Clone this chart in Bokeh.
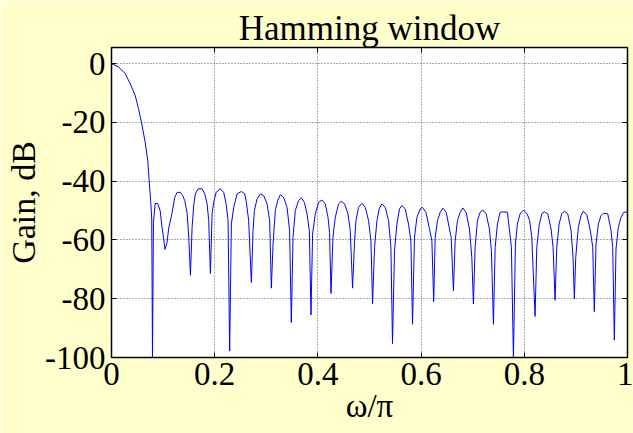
from bokeh.plotting import figure
from bokeh.embed import file_html
from bokeh.resources import INLINE
from bokeh.models import LinearAxis, FixedTicker, CustomJSTickFormatter, Range1d

# Frequency (omega/pi) and gain (dB)
freq = [
    0.000, 0.0136, 0.0265, 0.0362, 0.0459, 0.0523, 0.0587, 0.0652, 0.0703, 0.0730, 0.0761, 0.0780, 0.0794,
    0.0813, 0.0846, 0.0896, 0.0943, 0.0974, 0.1007, 0.1036, 0.1075, 0.1109,
    0.1171, 0.1226, 0.1272, 0.1336, 0.1380, 0.1419, 0.1466, 0.1497, 0.1530,
    0.1562, 0.1593, 0.1626, 0.1679, 0.1756, 0.1806, 0.1853, 0.1884, 0.1917,
    0.1950, 0.1981, 0.2027, 0.2110, 0.2174, 0.2221, 0.2259, 0.2290,
    0.2323, 0.2368, 0.2434, 0.2517, 0.2581, 0.2614, 0.2658, 0.2711,
    0.2743, 0.2769, 0.2821, 0.2885, 0.2949, 0.3015, 0.3065, 0.3098,
    0.3131, 0.3175, 0.3220, 0.3272, 0.3336, 0.3402, 0.3452, 0.3485,
    0.3518, 0.3562, 0.3626, 0.3679, 0.3737, 0.3789, 0.3834, 0.3866,
    0.3897, 0.3950, 0.4014, 0.4079, 0.4143, 0.4196, 0.4226, 0.4254,
    0.4292, 0.4337, 0.4401, 0.4453, 0.4517, 0.4583, 0.4627, 0.4672,
    0.4711, 0.4738, 0.4788, 0.4854, 0.4918, 0.4982, 0.5028, 0.5059,
    0.5098, 0.5144, 0.5189, 0.5241, 0.5305, 0.5369, 0.5415, 0.5446,
    0.5485, 0.5531, 0.5582, 0.5628, 0.5692, 0.5756, 0.5802, 0.5834,
    0.5872, 0.5919, 0.5983, 0.6027, 0.6093, 0.6157, 0.6209, 0.6244,
    0.6273, 0.6318, 0.6370, 0.6422, 0.6486, 0.6544, 0.6583, 0.6627,
    0.6660, 0.6705, 0.6757, 0.6809, 0.6873, 0.6937, 0.6983, 0.7014,
    0.7047, 0.7092, 0.7144, 0.7196, 0.7260, 0.7324, 0.7363, 0.7402,
    0.7435, 0.7479, 0.7531, 0.7595, 0.7673, 0.7711, 0.7750, 0.7789,
    0.7828, 0.7866, 0.7919, 0.7983, 0.8054, 0.8103, 0.8145, 0.8209,
    0.8242, 0.8287, 0.8339, 0.8389, 0.8455, 0.8519, 0.8558, 0.8596,
    0.8629, 0.8674, 0.8726, 0.8777, 0.8842, 0.8906, 0.8945, 0.8970,
    0.8997, 0.9047, 0.9100, 0.9144, 0.9210, 0.9280, 0.9326, 0.9357,
    0.9390, 0.9435, 0.9487, 0.9532, 0.9617, 0.9681, 0.9713, 0.9745,
    0.9777, 0.9822, 0.9874, 0.9926, 1.0000,
]
gain_db = [
    0.0, -1.1, -3.4, -6.8, -10.8, -15.3, -20.5, -26.7, -33.0, -39.8, -47.2, -52.9, -100.0,
    -54.0, -47.6, -47.6, -50.0, -55.0, -59.0, -63.2, -61.0, -56.0,
    -51.0, -45.5, -43.8, -43.8, -44.9, -46.6, -51.0, -59.0, -72.0,
    -55.7, -48.3, -44.3, -42.6, -42.6, -44.3, -47.7, -53.4, -71.4,
    -51.0, -47.2, -43.8, -42.6, -43.8, -47.7, -53.4, -97.8,
    -54.6, -48.9, -44.3, -43.5, -44.3, -47.2, -53.4, -74.5,
    -56.8, -50.0, -46.0, -44.3, -44.9, -47.7, -53.4, -76.4,
    -61.4, -50.0, -46.6, -44.6, -45.5, -48.9, -56.8, -88.1,
    -59.1, -50.0, -46.6, -45.7, -47.2, -51.1, -56.8, -85.5,
    -58.0, -51.1, -47.2, -46.4, -47.7, -52.3, -57.4, -78.2,
    -59.0, -52.3, -47.7, -46.8, -47.7, -51.1, -56.8, -76.4,
    -60.3, -53.4, -48.9, -47.5, -48.9, -53.4, -60.3, -81.8,
    -62.5, -53.4, -49.4, -47.7, -48.9, -53.4, -62.5, -95.3,
    -63.6, -54.6, -49.4, -48.3, -49.4, -54.6, -60.3, -88.7,
    -59.1, -52.3, -49.4, -48.9, -50.6, -55.7, -60.3, -81.0,
    -59.1, -53.4, -50.6, -49.2, -50.6, -55.7, -59.1, -77.3,
    -60.3, -53.4, -50.6, -49.1, -50.6, -56.3, -65.9, -81.8,
    -62.5, -53.4, -50.6, -49.8, -51.1, -56.3, -63.6, -88.7,
    -62.5, -54.6, -50.6, -50.4, -50.6, -56.3, -62.5, -100.0,
    -61.4, -54.6, -51.1, -49.8, -51.1, -53.4, -59.0, -86.0,
    -62.5, -55.1, -51.1, -50.4, -51.1, -56.3, -62.5, -80.5,
    -62.5, -54.6, -51.1, -50.2, -51.1, -56.8, -65.9, -80.1,
    -65.9, -55.7, -51.7, -50.2, -51.4, -56.8, -62.5, -84.4,
    -61.4, -54.6, -51.7, -50.9, -51.1, -56.8, -62.5, -94.1,
    -63.1, -55.7, -52.3, -50.6, -50.5,
]

x_ticks = [0, 0.2, 0.4, 0.6, 0.8, 1]
y_ticks = [0, -20, -40, -60, -80, -100]

title_text = "Hamming window"
x_label = "ω/π"
y_label = "Gain, dB"

FONT = "Liberation Serif"
BG = "#FFFFCC"

p = figure(width=633, height=433, output_backend="svg", toolbar_location=None,
           x_range=Range1d(0, 1), y_range=Range1d(-100, 5.5),
           min_border_left=111, min_border_right=6, min_border_top=47, min_border_bottom=76,
           background_fill_color="white", border_fill_color=BG,
           outline_line_color="black", outline_line_width=1.5)

p.title.text = title_text
p.title.align = "center"
p.title.text_font = FONT
p.title.text_font_size = "35px"
p.title.text_font_style = "normal"
p.title.text_color = "black"
p.title.standoff = 0

p.line(freq, gain_db, line_color="#0000FF", line_width=1)

fmt = CustomJSTickFormatter(code="return String(Math.round(tick*10)/10);")

for ax in p.xaxis:
    ax.ticker = FixedTicker(ticks=x_ticks)
    ax.formatter = fmt
for ax in p.yaxis:
    ax.ticker = FixedTicker(ticks=y_ticks)
    ax.formatter = fmt

for ax in list(p.xaxis) + list(p.yaxis):
    ax.major_label_text_font = FONT
    ax.major_label_text_font_size = "33px"
    ax.major_label_text_color = "black"
    ax.axis_label_text_font = FONT
    ax.axis_label_text_font_size = "34px"
    ax.axis_label_text_font_style = "normal"
    ax.axis_label_text_color = "black"
    ax.major_tick_in = 5
    ax.major_tick_out = 0
    ax.minor_tick_line_color = None
    ax.axis_line_color = "black"
    ax.major_tick_line_color = "black"

p.xaxis.axis_label = x_label
p.yaxis.axis_label = y_label
p.xaxis.major_label_standoff = 5
p.xaxis.axis_label_standoff = 0
p.xaxis.axis_label_text_font_size = "33px"
p.yaxis.major_label_standoff = 6
p.yaxis.axis_label_standoff = 0

# box ticks on the right and top (labels not painted)
ra = LinearAxis(ticker=FixedTicker(ticks=y_ticks), major_label_text_font_size="1px",
                major_label_text_color=None,
                major_tick_in=5, major_tick_out=0, minor_tick_line_color=None,
                axis_line_color=None, major_label_standoff=0)
ta = LinearAxis(ticker=FixedTicker(ticks=x_ticks), major_label_text_font_size="1px",
                major_label_text_color=None,
                major_tick_in=5, major_tick_out=0, minor_tick_line_color=None,
                axis_line_color=None, major_label_standoff=0)
p.add_layout(ra, "right")
p.add_layout(ta, "above")

p.grid.grid_line_color = "#333333"
p.grid.grid_line_dash = "1 2"
p.grid.grid_line_alpha = 0.8
p.xgrid.ticker = FixedTicker(ticks=x_ticks)
p.ygrid.ticker = FixedTicker(ticks=y_ticks)

open("out.html", "w").write(file_html(p, INLINE))
